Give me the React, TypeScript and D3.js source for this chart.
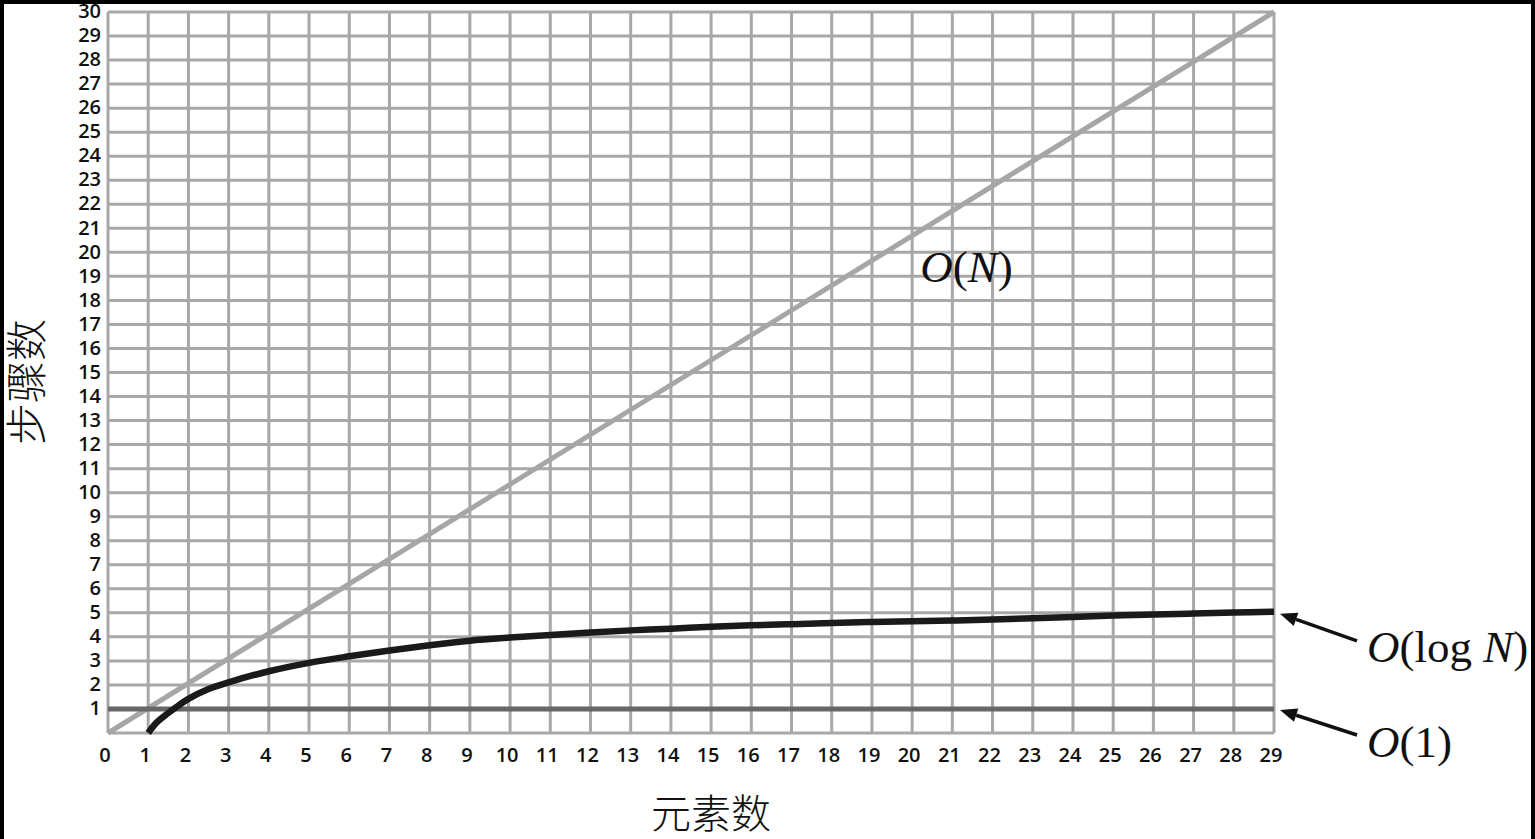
import React from "react";
import * as d3 from "d3";

// x: number of elements, y: number of steps
const xTickValues = [0, 1, 2, 3, 4, 5, 6, 7, 8, 9, 10, 11, 12, 13, 14, 15, 16, 17, 18, 19, 20, 21, 22, 23, 24, 25, 26, 27, 28, 29];
const yTickValues = [1, 2, 3, 4, 5, 6, 7, 8, 9, 10, 11, 12, 13, 14, 15, 16, 17, 18, 19, 20, 21, 22, 23, 24, 25, 26, 27, 28, 29, 30];

// O(N)
const linearX = [0, 29];
const linearY = [0, 30];

// O(1)
const constX = [0, 29];
const constY = [1, 1];

// O(log N)
const logX = [1, 1.2, 1.5, 1.75, 2, 2.5, 3, 4, 5, 6, 7, 8, 9, 10, 11, 12, 13, 14, 15, 16, 17, 18, 19, 20, 21, 22, 23, 24, 25, 26, 27, 28, 29];
const logY = [0, 0.42, 0.83, 1.14, 1.42, 1.83, 2.11, 2.57, 2.92, 3.19, 3.43, 3.65, 3.84, 3.97, 4.08, 4.18, 4.27, 4.34, 4.42, 4.48, 4.53, 4.58, 4.62, 4.65, 4.68, 4.72, 4.77, 4.83, 4.89, 4.93, 4.97, 5.01, 5.05];

const W = 1535;
const H = 839;

const tickFont = "'Open Sans', 'DejaVu Sans', sans-serif";
const serif = "'Liberation Serif', 'DejaVu Serif', serif";
const cjk = "'Noto Sans CJK SC', sans-serif";

function Arrow({ x1, y1, x2, y2 }: { x1: number; y1: number; x2: number; y2: number }) {
  // x2,y2 is the tip
  const ang = Math.atan2(y2 - y1, x2 - x1);
  const len = 17;
  const half = 7;
  const bx = x2 - len * Math.cos(ang);
  const by = y2 - len * Math.sin(ang);
  const px = -Math.sin(ang) * half;
  const py = Math.cos(ang) * half;
  return (
    <g>
      <line x1={x1} y1={y1} x2={bx} y2={by} stroke="#111" strokeWidth={3.5} />
      <polygon points={`${x2},${y2} ${bx + px},${by + py} ${bx - px},${by - py}`} fill="#111" />
    </g>
  );
}

export default function App() {
  const x = d3.scaleLinear().domain([0, 29]).range([108, 1274]);
  const y = d3.scaleLinear().domain([0, 30]).range([733, 12]);

  const line = d3
    .line<[number, number]>()
    .x((d) => x(d[0]))
    .y((d) => y(d[1]));
  const curve = d3
    .line<[number, number]>()
    .x((d) => x(d[0]))
    .y((d) => y(d[1]))
    .curve(d3.curveCatmullRom.alpha(0.5));

  const linPts = linearX.map((v, i) => [v, linearY[i]] as [number, number]);
  const constPts = constX.map((v, i) => [v, constY[i]] as [number, number]);
  const logPts = logX.map((v, i) => [v, logY[i]] as [number, number]);

  const gridColor = "#a8a8a8";
  const xEnd = x(29);

  return (
    <svg width={W} height={H} style={{ position: "absolute", left: 0, top: 0, background: "#fff" }}>
      <rect x={0} y={0} width={W} height={H} fill="#fff" />
      {/* frame */}
      <line x1={2} y1={0} x2={2} y2={H} stroke="#000" strokeWidth={4} />
      <line x1={0} y1={2} x2={W} y2={2} stroke="#000" strokeWidth={4} />
      <line x1={1533} y1={0} x2={1533} y2={H} stroke="#000" strokeWidth={4} />

      {/* grid */}
      <g>
        {xTickValues.map((v) => (
          <line key={"gx" + v} x1={x(v)} x2={x(v)} y1={y(30)} y2={y(0)} stroke={gridColor} strokeWidth={3} />
        ))}
        <line x1={x(0)} x2={xEnd} y1={y(0)} y2={y(0)} stroke={gridColor} strokeWidth={3} />
        {yTickValues.map((v) => (
          <line key={"gy" + v} x1={x(0)} x2={xEnd} y1={y(v)} y2={y(v)} stroke={gridColor} strokeWidth={3} />
        ))}
      </g>

      {/* series */}
      <path d={line(linPts) || ""} fill="none" stroke="#a6a6a6" strokeWidth={5} />
      <path d={line(constPts) || ""} fill="none" stroke="#676767" strokeWidth={5} />
      <path d={curve(logPts) || ""} fill="none" stroke="#1a1a1a" strokeWidth={6.5} />

      {/* tick labels */}
      <g fontFamily={tickFont} fontWeight={600} fontSize={20} fill="#111">
        {yTickValues.map((v) => (
          <text key={"ty" + v} x={101} y={y(v) - 1} dy="0.36em" textAnchor="end">
            {v}
          </text>
        ))}
        {xTickValues.map((v) => (
          <text key={"tx" + v} x={x(v) - 3} y={762} textAnchor="middle">
            {v}
          </text>
        ))}
      </g>

      {/* axis titles */}
      <text x={711} y={828} textAnchor="middle" fontFamily={cjk} fontWeight={300} fontSize={40} fill="#111">
        元素数
      </text>
      <text
        transform={`translate(42,382) rotate(-90)`}
        textAnchor="middle"
        fontFamily={cjk}
        fontWeight={300}
        fontSize={42}
        fill="#111"
      >
        步骤数
      </text>

      {/* annotations */}
      <text x={x(20.2)} y={y(18.75)} fontFamily={serif} fontSize={45} fill="#111">
        <tspan fontStyle="italic">O</tspan>
        <tspan>(</tspan>
        <tspan fontStyle="italic">N</tspan>
        <tspan>)</tspan>
      </text>

      <Arrow x1={xEnd + 83} y1={y(5) + 28} x2={xEnd + 6} y2={y(5) + 1} />
      <text x={xEnd + 93} y={y(5) + 49} fontFamily={serif} fontSize={45} fill="#111">
        <tspan fontStyle="italic">O</tspan>
        <tspan>(log </tspan>
        <tspan fontStyle="italic">N</tspan>
        <tspan>)</tspan>
      </text>

      <Arrow x1={xEnd + 83} y1={y(1) + 26} x2={xEnd + 6} y2={y(1) + 1} />
      <text x={xEnd + 93} y={y(1) + 48} fontFamily={serif} fontSize={45} fill="#111">
        <tspan fontStyle="italic">O</tspan>
        <tspan>(1)</tspan>
      </text>
    </svg>
  );
}
